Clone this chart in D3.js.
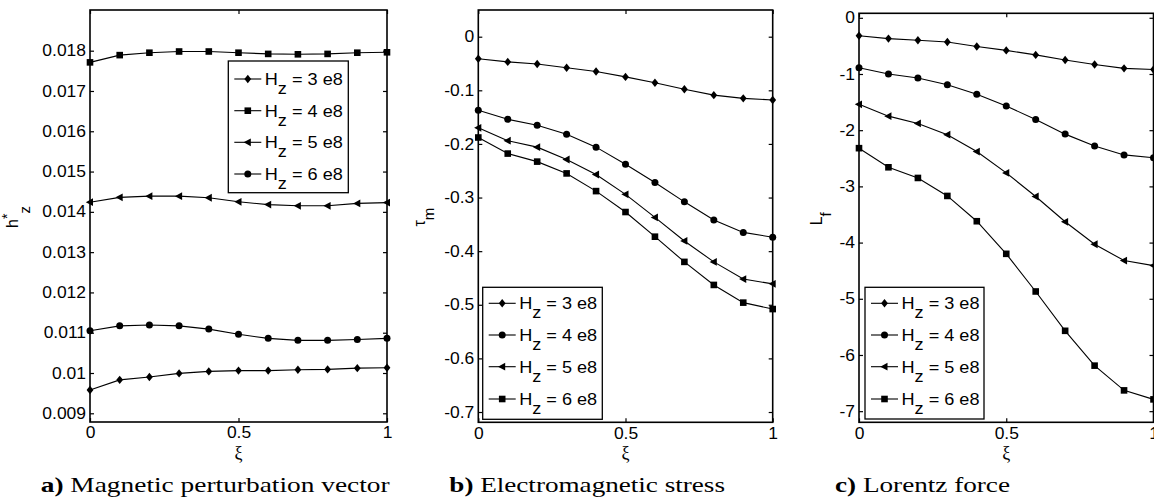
<!DOCTYPE html>
<html>
<head>
<meta charset="utf-8">
<script src="https://cdn.jsdelivr.net/npm/d3@7"></script>
<style>
  body { margin: 0; background: #fff; }
  svg { display: block; }
  .sans { font-family: "Liberation Sans", Arial, Helvetica, sans-serif; }
  .serif { font-family: "Liberation Serif", "Times New Roman", Times, serif; }
</style>
</head>
<body>
<svg id="fig" width="1154" height="503"></svg>
<script>
// Dimensionless coordinate along the sample
const xi = [0, 0.1, 0.2, 0.3, 0.4, 0.5, 0.6, 0.7, 0.8, 0.9, 1];
const xTickValues = [0, 0.5, 1];
const xTickLabels = ["0", "0.5", "1"];
const fieldLabels = ["3 e8", "4 e8", "5 e8", "6 e8"];

// a) Magnetic perturbation vector h*_z
const hStar3 = [0.00958, 0.00983, 0.00990, 0.00999, 0.01004, 0.01006, 0.01006, 0.01008, 0.01009, 0.01012, 0.01013];
const hStar4 = [0.01771, 0.01789, 0.01795, 0.01798, 0.01798, 0.01795, 0.01792, 0.01791, 0.01792, 0.01795, 0.01796];
const hStar5 = [0.01424, 0.01436, 0.01439, 0.01439, 0.01435, 0.01425, 0.01418, 0.01415, 0.01415, 0.01421, 0.01423];
const hStar6 = [0.01105, 0.01117, 0.01119, 0.01117, 0.01109, 0.01096, 0.01086, 0.01081, 0.01081, 0.01083, 0.01086];
const hTickValues = [0.009, 0.010, 0.011, 0.012, 0.013, 0.014, 0.015, 0.016, 0.017, 0.018];
const hTickLabels = ["0.009", "0.01", "0.011", "0.012", "0.013", "0.014", "0.015", "0.016", "0.017", "0.018"];

// b) Electromagnetic stress tau_m
const tau3 = [-0.041, -0.047, -0.051, -0.058, -0.065, -0.075, -0.086, -0.098, -0.109, -0.115, -0.118];
const tau4 = [-0.137, -0.154, -0.165, -0.182, -0.206, -0.238, -0.272, -0.308, -0.342, -0.365, -0.374];
const tau5 = [-0.170, -0.194, -0.206, -0.229, -0.257, -0.294, -0.337, -0.381, -0.420, -0.452, -0.461];
const tau6 = [-0.188, -0.218, -0.233, -0.255, -0.288, -0.327, -0.373, -0.420, -0.463, -0.496, -0.508];
const tauTickValues = [-0.7, -0.6, -0.5, -0.4, -0.3, -0.2, -0.1, 0];
const tauTickLabels = ["-0.7", "-0.6", "-0.5", "-0.4", "-0.3", "-0.2", "-0.1", "0"];

// c) Lorentz force L_f
const lf3 = [-0.32, -0.37, -0.40, -0.43, -0.51, -0.58, -0.66, -0.75, -0.83, -0.90, -0.92];
const lf4 = [-0.89, -1.00, -1.07, -1.19, -1.36, -1.57, -1.81, -2.07, -2.28, -2.44, -2.49];
const lf5 = [-1.54, -1.75, -1.88, -2.08, -2.38, -2.76, -3.18, -3.63, -4.03, -4.32, -4.41];
const lf6 = [-2.32, -2.66, -2.85, -3.17, -3.62, -4.20, -4.87, -5.57, -6.19, -6.63, -6.79];
const lfTickValues = [-7, -6, -5, -4, -3, -2, -1, 0];
const lfTickLabels = ["-7", "-6", "-5", "-4", "-3", "-2", "-1", "0"];

const svg = d3.select("#fig");
const WIDEN = 1.09; // horizontal stretch of the sans-serif labels

// Marker outlines centred on the origin
function markerPath(kind) {
  switch (kind) {
    case "diamond": return "M0,-4.2L3.4,0L0,4.2L-3.4,0Z";
    case "square": return "M-3.3,-3.3H3.3V3.3H-3.3Z";
    case "triangle": return "M-4.2,0L3,-3.9L3,3.9Z";
    case "circle": return d3.arc()({innerRadius: 0, outerRadius: 3.5, startAngle: 0, endAngle: 2 * Math.PI});
  }
}

function widen(sel, factor) {
  sel.each(function () {
    const w = this.getComputedTextLength();
    if (w > 0) d3.select(this).attr("textLength", w * factor).attr("lengthAdjust", "spacingAndGlyphs");
  });
}

function drawPanel(cfg) {
  const x = d3.scaleLinear().domain([0, 1]).range([cfg.left, cfg.right]);
  const y = d3.scaleLinear().domain(cfg.yDomain).range([cfg.bottom, cfg.top]);
  const g = svg.append("g");
  const line = d3.line().x((d, j) => x(xi[j])).y(d => y(d));

  // curves with markers
  cfg.series.forEach((vals, i) => {
    g.append("path")
      .attr("d", line(vals))
      .attr("fill", "none")
      .attr("stroke", "#000")
      .attr("stroke-width", 1.1);
    g.selectAll(null).data(vals).enter().append("path")
      .attr("d", markerPath(cfg.markers[i]))
      .attr("transform", (d, j) => `translate(${x(xi[j])},${y(d)})`)
      .attr("fill", "#000");
  });

  // axes with inward ticks on all four sides
  const left = g.append("g").attr("transform", `translate(${cfg.left},0)`)
    .call(d3.axisLeft(y).tickValues(cfg.yTicks).tickSize(-4).tickSizeOuter(0).tickPadding(4)
      .tickFormat((d, i) => cfg.yLabels[i]));
  const right = g.append("g").attr("transform", `translate(${cfg.right},0)`)
    .call(d3.axisRight(y).tickValues(cfg.yTicks).tickSize(-4).tickSizeOuter(0).tickFormat(""));
  const bottom = g.append("g").attr("transform", `translate(0,${cfg.bottom})`)
    .call(d3.axisBottom(x).tickValues(xTickValues).tickSize(-4).tickSizeOuter(0).tickPadding(5)
      .tickFormat((d, i) => xTickLabels[i]));
  const top = g.append("g").attr("transform", `translate(0,${cfg.top})`)
    .call(d3.axisTop(x).tickValues(xTickValues).tickSize(-4).tickSizeOuter(0).tickFormat(""));
  [left, right, bottom, top].forEach(a => {
    a.attr("font-family", null).attr("font-size", null);
    a.select(".domain").remove();
    a.selectAll("line").attr("stroke", "#000").attr("stroke-width", 1.2);
    a.selectAll("text").attr("class", "sans").attr("font-size", 16).attr("fill", "#000");
  });
  widen(left.selectAll("text"), WIDEN);
  widen(bottom.selectAll("text"), WIDEN);

  // frame
  g.append("rect")
    .attr("x", cfg.left).attr("y", cfg.top)
    .attr("width", cfg.right - cfg.left).attr("height", cfg.bottom - cfg.top)
    .attr("fill", "none").attr("stroke", "#000").attr("stroke-width", 1.6);

  // x label
  g.append("text")
    .attr("class", "serif")
    .attr("x", (cfg.left + cfg.right) / 2).attr("y", cfg.bottom + 37)
    .attr("text-anchor", "middle")
    .attr("font-size", 18)
    .text("ξ");

  // y label, rotated, with sub/superscripts
  const yl = g.append("text")
    .attr("class", "sans")
    .attr("transform", `translate(${cfg.yLabelX},${(cfg.top + cfg.bottom) / 2 + 1}) rotate(-90)`)
    .attr("text-anchor", "middle")
    .attr("font-size", 16);
  yl.append("tspan").text(cfg.yLabel.base);
  if (cfg.yLabel.sup) yl.append("tspan").attr("dy", -6).attr("font-size", 14).text(cfg.yLabel.sup);
  yl.append("tspan").attr("dy", cfg.yLabel.sup ? 6 + cfg.yLabel.subShift : cfg.yLabel.subShift)
    .attr("font-size", 15).text(cfg.yLabel.sub);

  // legend
  const L = cfg.legend;
  g.append("rect")
    .attr("x", L.x0).attr("y", L.y0)
    .attr("width", L.x1 - L.x0).attr("height", L.y1 - L.y0)
    .attr("fill", "#fff").attr("stroke", "#000").attr("stroke-width", 1.3);
  cfg.markers.forEach((m, i) => {
    const ey = L.rows[i];
    const lx0 = L.x0 + 6, lx1 = L.x0 + 33;
    g.append("line").attr("x1", lx0).attr("x2", lx1).attr("y1", ey).attr("y2", ey)
      .attr("stroke", "#000").attr("stroke-width", 1.1);
    g.append("path").attr("d", markerPath(m))
      .attr("transform", `translate(${(lx0 + lx1) / 2},${ey})`).attr("fill", "#000");
    const t = g.append("text")
      .attr("class", "sans")
      .attr("x", lx1 + 3.5).attr("y", ey + 6)
      .attr("font-size", 16.5)
      .attr("textLength", 78).attr("lengthAdjust", "spacingAndGlyphs");
    t.append("tspan").text("H");
    t.append("tspan").attr("dy", 9).text("z");
    t.append("tspan").attr("dy", -9).text(" = " + fieldLabels[i]);
  });

  // caption
  const cap = svg.append("text")
    .attr("class", "serif")
    .attr("x", cfg.caption.x).attr("y", 492)
    .attr("font-size", 22)
    .attr("textLength", cfg.caption.width).attr("lengthAdjust", "spacingAndGlyphs");
  cap.append("tspan").attr("font-weight", "bold").text(cfg.caption.tag);
  cap.append("tspan").text(" " + cfg.caption.text);
}

drawPanel({
  left: 90, right: 387, top: 10, bottom: 422,
  yDomain: [0.008784, 0.019010],
  yTicks: hTickValues, yLabels: hTickLabels,
  series: [hStar3, hStar4, hStar5, hStar6],
  markers: ["diamond", "square", "triangle", "circle"],
  yLabelX: 18, yLabel: {base: "h", sup: "*", sub: "z", subShift: 12},
  legend: {x0: 228.3, x1: 348.3, y0: 61, y1: 192.7, rows: [79, 110.7, 142.3, 174]},
  caption: {x: 40.7, width: 349, tag: "a)", text: "Magnetic perturbation vector"}
});

drawPanel({
  left: 478.3, right: 772.7, top: 10, bottom: 422.3,
  yDomain: [-0.7192, 0.0498],
  yTicks: tauTickValues, yLabels: tauTickLabels,
  series: [tau3, tau4, tau5, tau6],
  markers: ["diamond", "circle", "triangle", "square"],
  yLabelX: 425, yLabel: {base: "τ", sub: "m", subShift: 9},
  legend: {x0: 482.7, x1: 602.3, y0: 287.3, y1: 419.3, rows: [303.3, 335, 366.7, 399]},
  caption: {x: 449.3, width: 275.7, tag: "b)", text: "Electromagnetic stress"}
});

drawPanel({
  left: 859, right: 1153.5, top: 13.3, bottom: 422.3,
  yDomain: [-7.198, 0.08],
  yTicks: lfTickValues, yLabels: lfTickLabels,
  series: [lf3, lf4, lf5, lf6],
  markers: ["diamond", "circle", "triangle", "square"],
  yLabelX: 822, yLabel: {base: "L", sub: "f", subShift: 9},
  legend: {x0: 865, x1: 984, y0: 287.3, y1: 419, rows: [303.3, 335, 366.7, 399]},
  caption: {x: 835, width: 175, tag: "c)", text: "Lorentz force"}
});
</script>
</body>
</html>
